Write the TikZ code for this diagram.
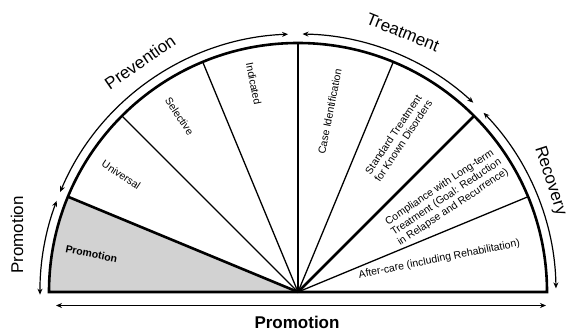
\documentclass[tikz,border=0pt]{standalone}
\usepackage{fontspec}
\setmainfont{Liberation Sans}
\usetikzlibrary{arrows.meta,calc}
\begin{document}
\begin{tikzpicture}[x=1pt,y=1pt,
  thickline/.style={line width=2.6pt},
  spoke/.style={line width=1.3pt},
  arrowarc/.style={line width=1.2pt, {Stealth[length=6pt,width=5pt]}-{Stealth[length=6pt,width=5pt]}},
  biglabel/.style={font=\fontsize{17}{20}\selectfont, inner sep=0pt},
  small/.style={font=\fontsize{10.5}{12}\selectfont, align=center, inner sep=0pt}]
\useasboundingbox (0,0) rectangle (569,332);
\coordinate (C) at (298,40);
\def\R{249}
\def\Ro{258}
% shaded promotion sector
\fill[gray!35] (C) -- ++(157.5:\R) arc[start angle=157.5,end angle=180,radius=\R] -- cycle;
% spokes
\foreach \a/\n in {22.5/s1,45/s2,67.5/s3,90/s4,112.5/s5,135/s6,157.5/s7}
  \coordinate (\n) at ($(C)+(\a:\R)$);
\foreach \n in {s1,s3,s5,s6} \draw[spoke] (C) -- (\n);
\foreach \n in {s2,s4,s7} \draw[thickline] (C) -- (\n);
% half disc outline
\coordinate (L) at ($(C)+(-\R,0)$);
\coordinate (Rt) at ($(C)+(\R,0)$);
\draw[thickline, line join=miter] (Rt) -- (L) arc[start angle=180,end angle=0,radius=\R] -- cycle;
% outer arrow arcs
\draw[arrowarc] ($(C)+(159.3:\Ro)$) arc[start angle=159.3,end angle=180.6,radius=\Ro];
\draw[arrowarc] ($(C)+(157.2:\Ro)$) arc[start angle=157.2,end angle=92.2,radius=\Ro];
\draw[arrowarc] ($(C)+(89:\Ro)$) arc[start angle=89,end angle=47.2,radius=\Ro];
\draw[arrowarc] ($(C)+(44:\Ro)$) arc[start angle=44,end angle=0.8,radius=\Ro];
% bottom arrow
\coordinate (bl) at (56,26.5);
\coordinate (br) at (546,26.5);
\draw[arrowarc] (bl) -- (br);
% big labels
\node[biglabel, rotate=34.5] (prev) at ($(C)+(124.5:279)$) {Prevention};
\node[biglabel, rotate=-22] (treat) at ($(C)+(68:280)$) {Treatment};
\node[biglabel, rotate=-72] (rec) at (550,151) {Recovery};
\node[biglabel, rotate=90] (promL) at (17,97) {Promotion};
\node[biglabel, font=\fontsize{17}{20}\selectfont\bfseries] (promB) at (297,10) {Promotion};
% sector labels
\node[small, rotate=-11.25] (lprom) at ($(C)+(169.5:210)$) {\bfseries Promotion};
\node[small, rotate=-33.75] (luni) at ($(C)+(146.5:212)$) {Universal};
\node[small, rotate=-56.25] (lsel) at ($(C)+(124:212)$) {Selective};
\node[small, rotate=-78.75] (lind) at ($(C)+(102:213)$) {Indicated};
\node[small, rotate=78.75] (lcase) at ($(C)+(80:183)$) {Case Identification};
\node[small, rotate=56.25] (lstd) at ($(C)+(57:184)$) {Standard Treatment\\for Known Disorders};
\node[small, rotate=33.75] (lcomp) at ($(C)+(32.5:176)$) {Compliance with Long-term\\Treatment (Goal: Reduction\\in Relapse and Recurrence)};
\node[small, rotate=11.25] (laft) at ($(C)+(13:145)$) {After-care (including Rehabilitation)};
\end{tikzpicture}
\end{document}
